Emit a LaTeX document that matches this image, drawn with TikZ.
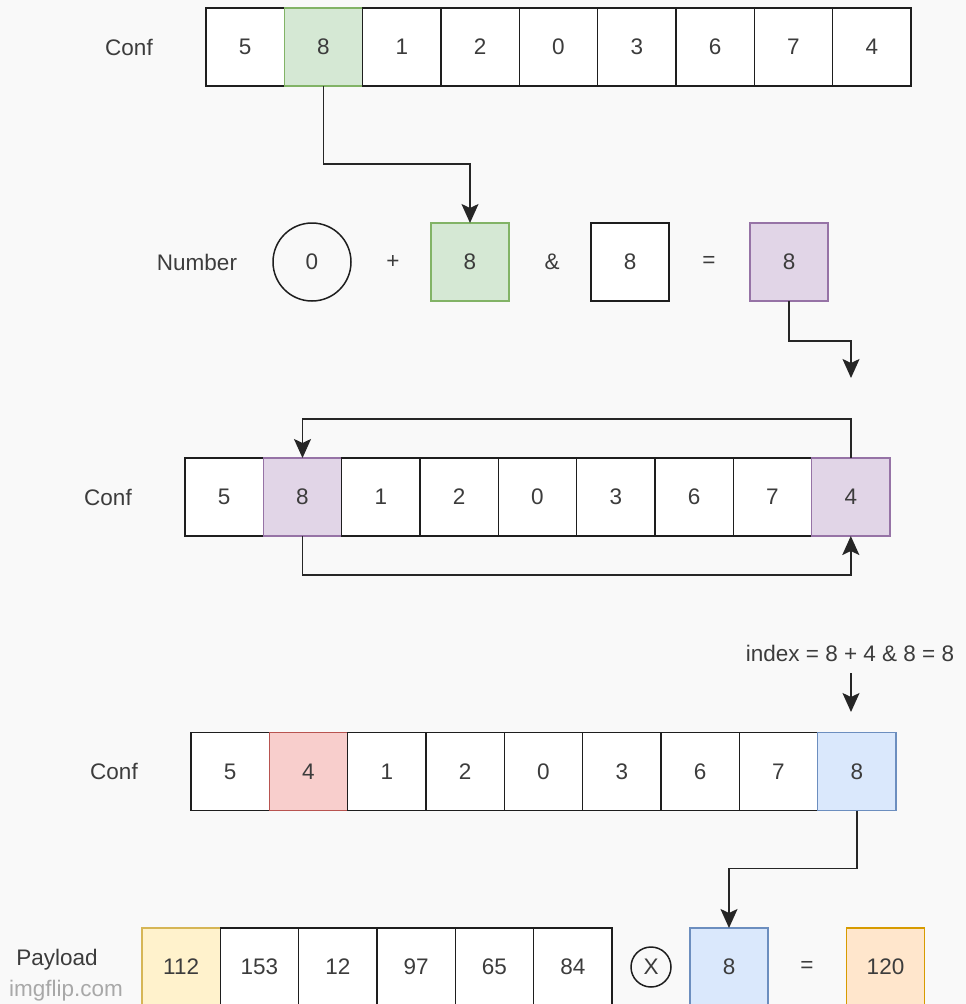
\documentclass[tikz,border=0pt]{standalone}
\usepackage{fontspec}
\setmainfont{Liberation Sans}
\usetikzlibrary{arrows.meta}
\definecolor{bg}{HTML}{F9F9F9}
\definecolor{ink}{HTML}{3C3C3C}
\definecolor{edge}{HTML}{1E1E1E}
\definecolor{wire}{HTML}{262626}
\definecolor{gfill}{HTML}{D5E8D4}\definecolor{gline}{HTML}{82B366}
\definecolor{pfill}{HTML}{E1D5E7}\definecolor{pline}{HTML}{9673A6}
\definecolor{rfill}{HTML}{F8CECC}\definecolor{rline}{HTML}{B85450}
\definecolor{bfill}{HTML}{DAE8FC}\definecolor{bline}{HTML}{6C8EBF}
\definecolor{yfill}{HTML}{FFF2CC}\definecolor{yline}{HTML}{D6B656}
\definecolor{ofill}{HTML}{FFE6CC}\definecolor{oline}{HTML}{D79B00}
\definecolor{mark}{HTML}{A8A8A8}

\begin{document}
\begin{tikzpicture}[x=1pt,y=-1pt,
  every node/.style={font=\fontsize{22.5}{26}\selectfont, text=ink},
  cell/.style={draw=edge, fill=white, line width=1.6pt, minimum width=78.33pt,
    minimum height=78pt, inner sep=0pt, outer sep=0pt},
  gcell/.style={cell, draw=gline, fill=gfill},
  pcell/.style={cell, draw=pline, fill=pfill},
  rcell/.style={cell, draw=rline, fill=rfill},
  bcell/.style={cell, draw=bline, fill=bfill},
  ycell/.style={cell, draw=yline, fill=yfill},
  ocell/.style={cell, draw=oline, fill=ofill},
  ring/.style={draw=edge, circle, line width=1.5pt, inner sep=0pt, outer sep=0pt},
  lbl/.style={inner sep=0pt},
  conn/.style={draw=wire, line width=1.8pt,
    -{Stealth[length=19pt,width=17pt,inset=4pt]}}
]
% canvas
\fill[bg] (0,0) rectangle (966,1004);
\useasboundingbox (0,0) rectangle (966,1004);
\clip (0,0) rectangle (966,1004);

% first configuration row
\node[lbl] (conf1) at (129,47) {Conf};
\foreach \v/\s [count=\i] in {5/cell,8/gcell,1/cell,2/cell,0/cell,3/cell,6/cell,7/cell,4/cell}
  \node[\s] (a\i) at ({206+78.33*(\i-0.5)},47) {\v};

% number update
\node[lbl] (numlbl) at (197,262) {Number};
\node[ring, minimum size=78pt] (num) at (312,262) {0};
\node[lbl] (plus) at (393,262) {+};
\node[gcell] (pick) at (470,262) {8};
\node[lbl] (amp) at (552,262) {\&};
\node[cell] (mask) at (630,262) {8};
\node[lbl] (eq1) at (709,262) {=};
\node[pcell] (res) at (789,262) {8};

% second configuration row (swap)
\node[lbl] (conf2) at (108,497) {Conf};
\foreach \v/\s [count=\i] in {5/cell,8/pcell,1/cell,2/cell,0/cell,3/cell,6/cell,7/cell,4/pcell}
  \node[\s] (b\i) at ({185+78.33*(\i-0.5)},497) {\v};

% index formula
\node[lbl] (idx) at (850,653) {index = 8 + 4 \& 8 = 8};

% third configuration row
\node[lbl] (conf3) at (114,771) {Conf};
\foreach \v/\s [count=\i] in {5/cell,4/rcell,1/cell,2/cell,0/cell,3/cell,6/cell,7/cell,8/bcell}
  \node[\s] (c\i) at ({191+78.33*(\i-0.5)},771.5) {\v};

% payload row
\node[lbl] (paylbl) at (57,960) {Payload};
\node[lbl, text=mark] (wm) at (66,991) {imgflip.com};
\foreach \v/\s [count=\i] in {112/ycell,153/cell,12/cell,97/cell,65/cell,84/cell}
  \node[\s] (p\i) at ({142+78.33*(\i-0.5)},967) {\v};
\node[ring, minimum size=40pt] (xor) at (651,967) {X};
\node[bcell] (key) at (729,967) {8};
\node[lbl] (eq2) at (807,967) {=};
\node[ocell] (out) at (885.5,967) {120};

% connectors
\coordinate (resend) at (851,378);
\coordinate (idxtop) at (851,673);
\coordinate (idxend) at (851,712);
\draw[conn] (a2.south) -- ++(0,78) -| (pick.north);
\draw[conn] (res.south) -- ++(0,40) -| (resend);
\draw[conn] (b9.north) -- ++(0,-39) -| (b2.north);
\draw[conn] (b2.south) -- ++(0,39) -| (b9.south);
\draw[conn] (idxtop) -- (idxend);
\draw[conn] (c9.south) -- ++(0,58) -| (key.north);
\end{tikzpicture}
\end{document}
